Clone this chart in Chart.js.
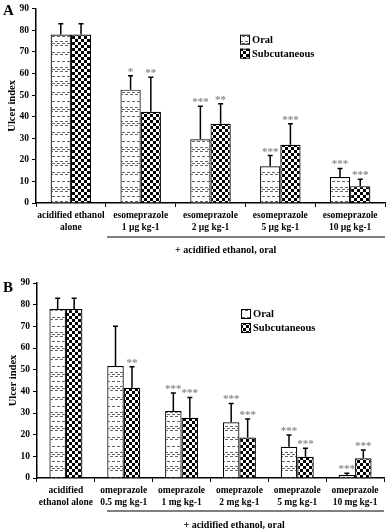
<!DOCTYPE html>
<html><head><meta charset="utf-8">
<script src="https://cdn.jsdelivr.net/npm/chart.js@4/dist/chart.umd.min.js"></script>
<style>
html,body{margin:0;padding:0;background:#fff;}
.wrap{position:relative;width:386px;height:265px;}
</style></head>
<body>
<div class="wrap"><canvas id="cA"></canvas></div>
<div class="wrap"><canvas id="cB"></canvas></div>
<script>
// ---------- Panel A data ----------
const categoriesA = [["acidified ethanol","alone"],["esomeprazole","1 µg kg-1"],["esomeprazole","2 µg kg-1"],["esomeprazole","5 µg kg-1"],["esomeprazole","10 µg kg-1"]];
const oralA = [78, 52.5, 29.5, 17, 12];
const oralErrA = [5, 6.5, 15.3, 5, 4];
const subA = [78, 42.3, 36.7, 27, 7.8];
const subErrA = [5, 16, 9.3, 9.7, 3.2];
const starsOralA = ["", "*", "***", "***", "***"];
const starsSubA = ["", "**", "**", "***", "***"];

// ---------- Panel B data ----------
const categoriesB = [["acidified","ethanol alone"],["omeprazole","0.5 mg kg-1"],["omeprazole","1 mg kg-1"],["omeprazole","2 mg kg-1"],["omeprazole","5 mg kg-1"],["omeprazole","10 mg kg-1"]];
const oralB = [78, 51.7, 30.9, 25.7, 14.4, 1.4];
const oralErrB = [5, 18.3, 8.3, 8.7, 5.4, 0.8];
const subB = [78, 41.6, 27.8, 18.7, 9.8, 9.1];
const subErrB = [5, 9.7, 9.4, 8.5, 3.9, 3.8];
const starsOralB = ["", "", "***", "***", "***", "***"];
const starsSubB = ["", "**", "***", "***", "***", "***"];

const yTicks = [0,10,20,30,40,50,60,70,80,90];
const seriesNames = ["Oral", "Subcutaneous"];
const groupNote = "+ acidified ethanol, oral";

const FONT = '"Liberation Serif", "Times New Roman", serif';

function makeOralPattern(){
  const c=document.createElement('canvas'); c.width=20; c.height=40;
  const g=c.getContext('2d'); g.fillStyle='#fff'; g.fillRect(0,0,20,40);
  g.fillStyle='#666';
  const rows=[1,3,5,12,14,21,27,29,31,36];
  rows.forEach((r,k)=>{ const off=(k%2)?2:0; for(let x=off;x<20;x+=5){ g.fillRect(x,r,3,1);} });
  return c.getContext('2d').createPattern(c,'repeat');
}
function makeCheckPattern(){
  const c=document.createElement('canvas'); c.width=6; c.height=6;
  const g=c.getContext('2d'); g.fillStyle='#fff'; g.fillRect(0,0,6,6);
  g.fillStyle='#000'; g.fillRect(0,0,3,3); g.fillRect(3,3,3,3);
  return g.createPattern(c,'repeat');
}
const oralPat = makeOralPattern();
const checkPat = makeCheckPattern();

const decoPlugin = {
  id:'deco',
  afterDatasetsDraw(chart){
    const ctx=chart.ctx, y=chart.scales.y;
    ctx.save();
    chart.data.datasets.forEach((ds,i)=>{
      const meta=chart.getDatasetMeta(i);
      meta.data.forEach((bar,j)=>{
        const top=y.getPixelForValue(ds.data[j]+ds.errors[j]);
        ctx.strokeStyle='#000'; ctx.lineWidth=1.5;
        ctx.beginPath(); ctx.moveTo(bar.x,bar.y); ctx.lineTo(bar.x,top);
        ctx.moveTo(bar.x-2.5,top); ctx.lineTo(bar.x+2.5,top); ctx.stroke();
        if(ds.stars[j]){
          ctx.fillStyle='#8a8a8a'; ctx.font='bold 11px '+FONT;
          ctx.textAlign='center'; ctx.textBaseline='alphabetic';
          ctx.fillText(ds.stars[j], bar.x, top-1);
        }
      });
    });
    ctx.restore();
  },
  afterDraw(chart){
    const ctx=chart.ctx, a=chart.chartArea, o=chart.options.plugins.deco;
    ctx.save();
    // panel letter
    ctx.fillStyle='#000'; ctx.font='bold 15px '+FONT; ctx.textAlign='left'; ctx.textBaseline='alphabetic';
    ctx.fillText(o.letter, 3, o.letterY);
    // legend
    const lx=a.left+204, ly=a.top+26;
    [oralPat, checkPat].forEach((p,k)=>{
      const by=ly+k*14;
      ctx.fillStyle=p; ctx.fillRect(lx,by,10,10);
      ctx.strokeStyle='#000'; ctx.lineWidth=1; ctx.strokeRect(lx+0.5,by+0.5,9,9);
      ctx.fillStyle='#000'; ctx.font='bold 10.5px '+FONT; ctx.textBaseline='middle';
      ctx.fillText(seriesNames[k], lx+12, by+5.5);
    });
    // bracket + note
    const bx0=a.left+o.bracketOff, bx1=a.right, by=a.bottom+o.bracketY;
    ctx.strokeStyle='#000'; ctx.lineWidth=1.2;
    ctx.beginPath(); ctx.moveTo(bx0,by); ctx.lineTo(bx1,by); ctx.stroke();
    ctx.font='bold 10px '+FONT; ctx.textAlign='left'; ctx.textBaseline='middle';
    ctx.fillText(groupNote, bx0+(bx1-bx0)*o.noteFrac, a.bottom+47);
    ctx.restore();
  }
};

function build(id, cats, oral, oralErr, sub, subErr, so, ss, opt){
  return new Chart(document.getElementById(id), {
    type:'bar',
    data:{ labels:cats, datasets:[
      {label:seriesNames[0], data:oral, errors:oralErr, stars:so, backgroundColor:oralPat, borderColor:'#000', borderWidth:1.2, categoryPercentage:opt.catPct, barPercentage:1},
      {label:seriesNames[1], data:sub, errors:subErr, stars:ss, backgroundColor:checkPat, borderColor:'#000', borderWidth:1.2, categoryPercentage:opt.catPct, barPercentage:1}
    ]},
    options:{
      responsive:true, maintainAspectRatio:false, animation:false, devicePixelRatio:1,
      layout:{padding:{left:opt.padL, right:opt.padR, top:opt.padT, bottom:opt.padB}},
      plugins:{legend:{display:false}, tooltip:{enabled:false}, deco:opt.deco},
      scales:{
        x:{
          grid:{display:true, drawOnChartArea:false, drawTicks:true, tickLength:4, color:'#000', offset:true},
          border:{display:true, color:'#000', width:1.5},
          ticks:{color:'#000', font:{family:FONT, size:9.5, weight:'bold'}, padding:3, maxRotation:0, minRotation:0, autoSkip:false},
          afterFit(s){ s.height=30; }
        },
        y:{
          min:0, max:90,
          afterBuildTicks(s){ s.ticks=yTicks.map(v=>({value:v})); },
          grid:{display:true, drawOnChartArea:false, drawTicks:true, tickLength:4, color:'#000'},
          border:{display:true, color:'#000', width:1.5},
          ticks:{color:'#000', font:{family:FONT, size:9.5, weight:'bold'}, padding:3},
          title:{display:true, text:'Ulcer index', color:'#000', font:{family:FONT, size:10.5, weight:'bold'}, padding:{top:0,bottom:0}},
          afterFit(s){ s.width=opt.yW; }
        }
      }
    },
    plugins:[decoPlugin]
  });
}

build('cA', categoriesA, oralA, oralErrA, subA, subErrA, starsOralA, starsSubA,
  {catPct:0.58, padL:6, padR:1, padT:7, padB:32, yW:30, deco:{letter:'A', letterY:15, bracketOff:71, bracketY:34, noteFrac:0.245}});
build('cB', categoriesB, oralB, oralErrB, subB, subErrB, starsOralB, starsSubB,
  {catPct:0.57, padL:7, padR:2, padT:18, padB:22, yW:30, deco:{letter:'B', letterY:27, bracketOff:70, bracketY:33, noteFrac:0.276}});
</script>
</body></html>
